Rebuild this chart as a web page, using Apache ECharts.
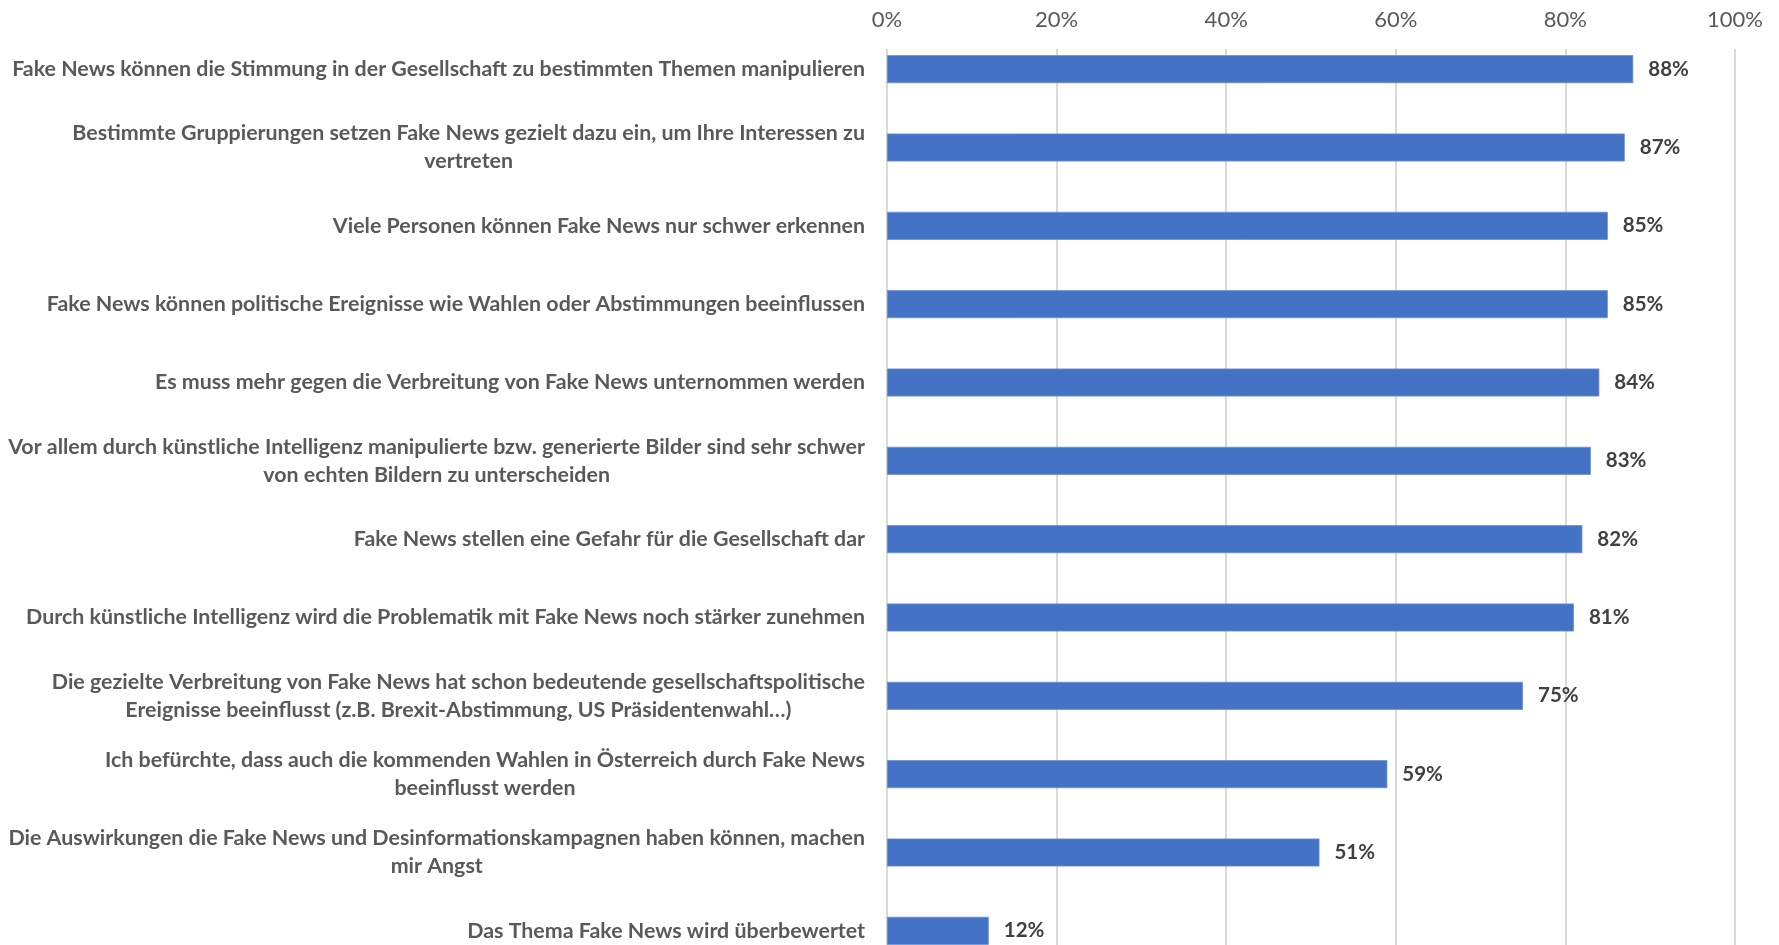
<!DOCTYPE html>
<html>
<head>
<meta charset="utf-8">
<script src="https://cdn.jsdelivr.net/npm/echarts@6/dist/echarts.min.js"></script>
<style>
html,body{margin:0;padding:0;background:#fff;overflow:hidden;}
#chart{width:1779px;height:972px;}
</style>
</head>
<body>
<div id="chart"></div>
<script>
var categories = [
  "Fake News können die Stimmung in der Gesellschaft zu bestimmten Themen manipulieren",
  "Bestimmte Gruppierungen setzen Fake News gezielt dazu ein, um Ihre Interessen zu\nvertreten",
  "Viele Personen können Fake News nur schwer erkennen",
  "Fake News können politische Ereignisse wie Wahlen oder Abstimmungen beeinflussen",
  "Es muss mehr gegen die Verbreitung von Fake News unternommen werden",
  "Vor allem durch künstliche Intelligenz manipulierte bzw. generierte Bilder sind sehr schwer\nvon echten Bildern zu unterscheiden",
  "Fake News stellen eine Gefahr für die Gesellschaft dar",
  "Durch künstliche Intelligenz wird die Problematik mit Fake News noch stärker zunehmen",
  "Die gezielte Verbreitung von Fake News hat schon bedeutende gesellschaftspolitische\nEreignisse beeinflusst (z.B. Brexit-Abstimmung, US Präsidentenwahl…)",
  "Ich befürchte, dass auch die kommenden Wahlen in Österreich durch Fake News\nbeeinflusst werden",
  "Die Auswirkungen die Fake News und Desinformationskampagnen haben können, machen\nmir Angst",
  "Das Thema Fake News wird überbewertet"
];
var values = [88, 87, 85, 85, 84, 83, 82, 81, 75, 59, 51, 12];
var axisMin = 0;
var axisMax = 100;
var axisStep = 20;

var chart = echarts.init(document.getElementById('chart'));
var FONT = 'Lato';
chart.setOption({
  backgroundColor: '#ffffff',
  animation: false,
  grid: [
    {left: 887, width: 848, top: 30, height: 940, containLabel: false},
    {left: 887, width: 848, top: 49, bottom: 0, containLabel: false}
  ],
  xAxis: [
    {gridIndex: 0, type: 'value', min: axisMin, max: axisMax, show: false},
    {
      gridIndex: 1, type: 'value', min: axisMin, max: axisMax, interval: axisStep,
      position: 'top',
      axisLine: {show: false}, axisTick: {show: false},
      axisLabel: {formatter: '{value}%', color: '#595959', fontFamily: FONT, fontSize: 22, margin: 18},
      splitLine: {show: true, lineStyle: {color: '#D9D9D9', width: 2}}
    }
  ],
  yAxis: [
    {
      gridIndex: 0, type: 'category', data: categories, inverse: true,
      axisLine: {show: false}, axisTick: {show: false},
      axisLabel: {
        margin: 22,
        color: '#595959', fontFamily: FONT, fontWeight: 'bold', fontSize: 21.4, lineHeight: 28,
        formatter: function (v) {
          return v.split('\n').map(function (s) { return '{c|' + s + '}'; }).join('\n');
        },
        rich: {c: {align: 'center', color: '#595959', fontFamily: FONT, fontWeight: 'bold', fontSize: 21.4, lineHeight: 28}}
      }
    },
    {gridIndex: 1, type: 'value', show: false, min: 0, max: 1}
  ],
  series: [{
    type: 'bar', xAxisIndex: 0, yAxisIndex: 0, data: values, barWidth: 28,
    itemStyle: {color: '#4472C4', borderColor: '#6A8FD3', borderWidth: 0.8},
    label: {
      show: true, position: 'right', distance: 15, formatter: '{c}%',
      color: '#404040', fontFamily: FONT, fontWeight: 'bold', fontSize: 20.5
    }
  }]
});
</script>
</body>
</html>
